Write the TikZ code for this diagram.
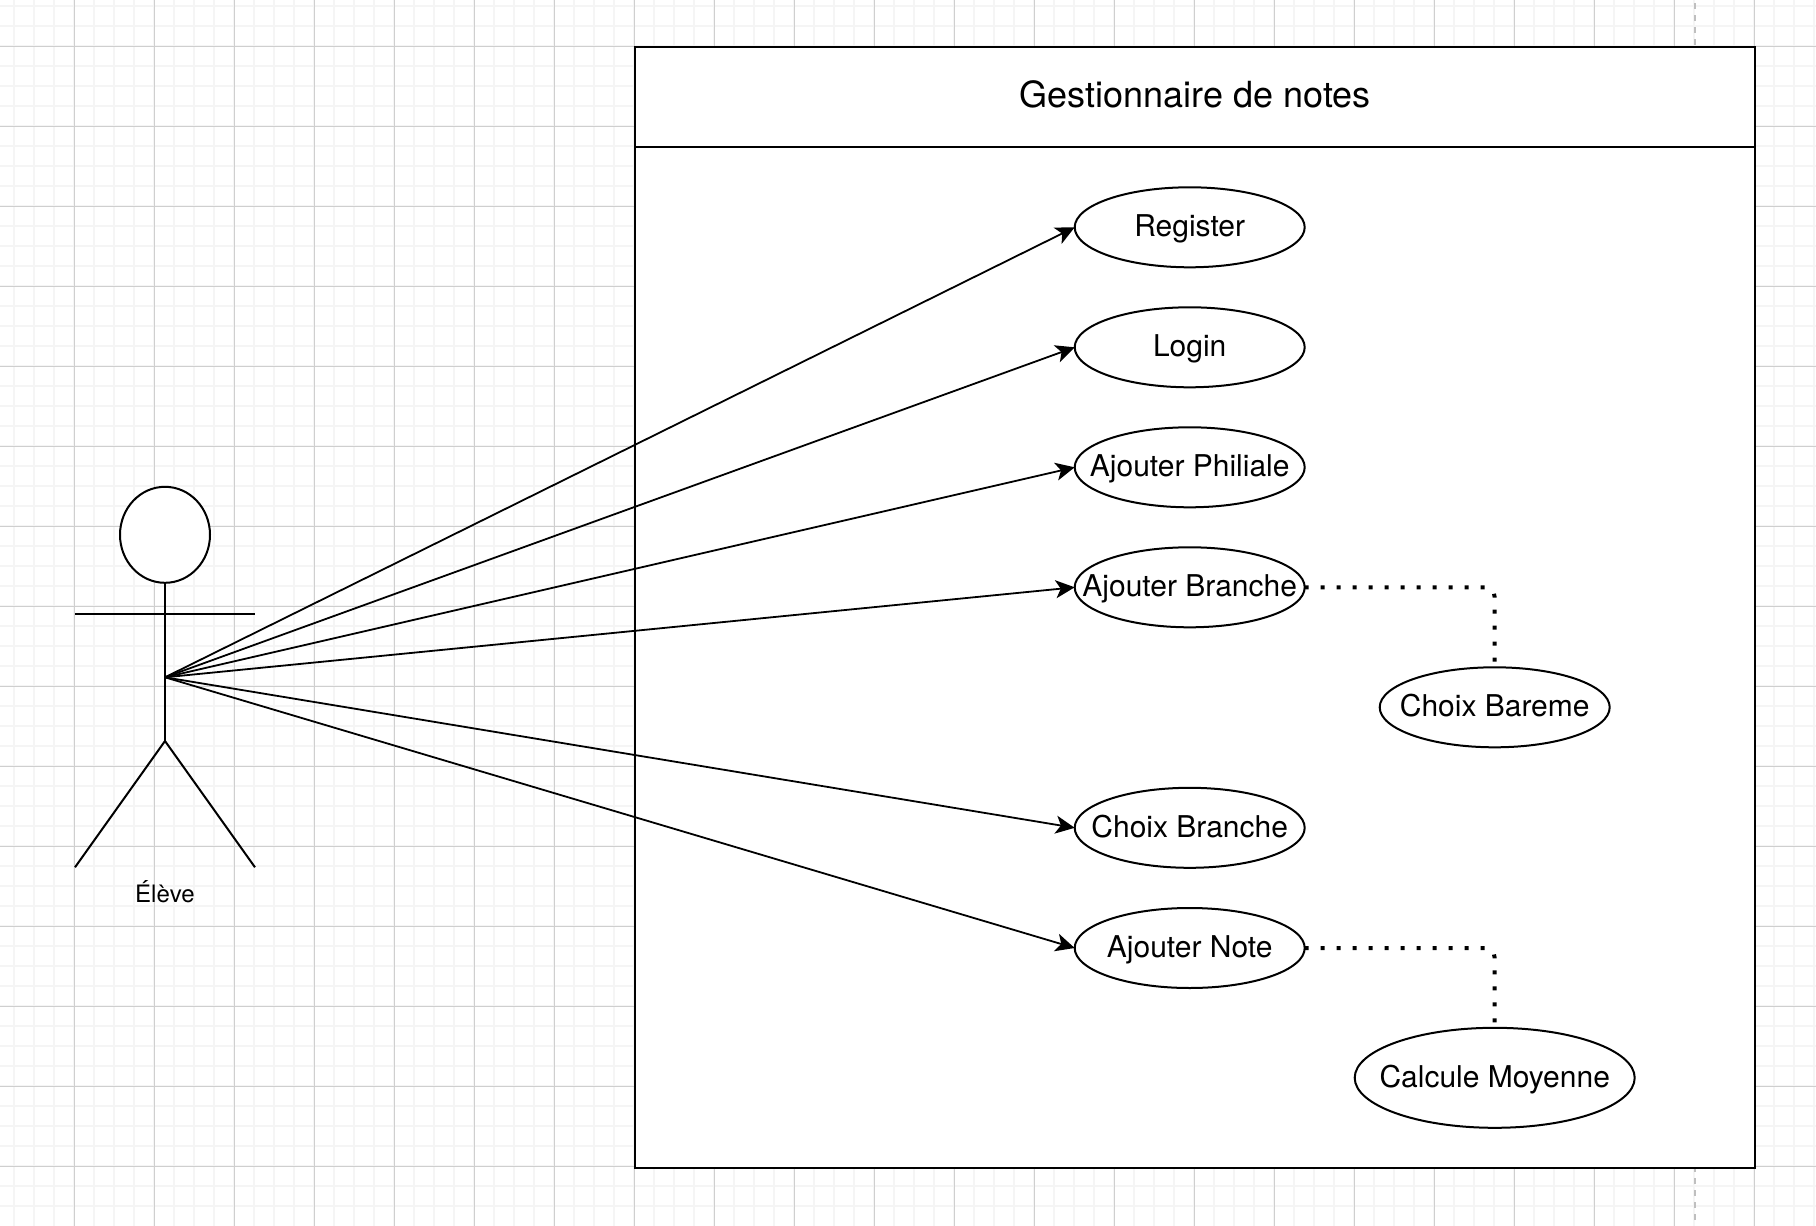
\documentclass[tikz,border=0pt]{standalone}
\usepackage{fontspec}
\setmainfont{TeX Gyre Heros}
\usetikzlibrary{arrows.meta,shapes.geometric}

\newcommand{\fixw}[1]{\makebox[0pt]{#1}}

\tikzset{
  minorgrid/.style={draw=black!4, line width=1pt},
  majorgrid/.style={draw=black!19, line width=0.5pt},
  pagebreak/.style={draw=black!25, line width=1pt, dash pattern=on 3pt off 3pt},
  sysbox/.style={rectangle, draw, fill=white, line width=1pt, inner sep=0pt, outer sep=0pt, minimum width=560pt},
  usecase/.style={ellipse, draw, fill=white, line width=1pt, inner sep=0pt, outer sep=0pt, minimum width=115pt, minimum height=40pt, text height=9.3pt, text depth=0pt, font=\fontsize{15}{18}\selectfont},
  actorline/.style={line width=1pt},
  assoc/.style={-{Stealth[length=9.5pt,width=9pt,inset=2.5pt]}, line width=0.9pt},
  linked/.style={line width=2pt, dash pattern=on 2pt off 6pt, rounded corners=5pt}
}

\begin{document}
\begin{tikzpicture}[x=0.5pt, y=-0.5pt]

  \useasboundingbox (0,0) rectangle (1816,1226);

  \foreach \x in {14.3,34.3,...,1815} \draw[minorgrid] (\x,0) -- (\x,1226);
  \foreach \y in {6.3,26.3,...,1225} \draw[minorgrid] (0,\y) -- (1816,\y);
  \foreach \x in {74.3,154.3,...,1815} \draw[majorgrid] (\x,0) -- (\x,1226);
  \foreach \y in {46.3,126.3,...,1225} \draw[majorgrid] (0,\y) -- (1816,\y);

  \draw[pagebreak] (1695,3) -- (1695,46);
  \draw[pagebreak] (1695,1166) -- (1695,1222);

  \node[sysbox, minimum height=560.5pt] (S) at (1195.3,607.8) {};
  \node[sysbox, minimum height=50pt, text height=10.5pt, text depth=0pt, font=\fontsize{18}{22}\selectfont] (T) at (1195.3,97.3) {Gestionnaire de notes};

  \node[usecase] (R) at (1189.7,227.3) {\fixw{Register}};
  \node[usecase] (L) at (1189.7,347.3) {\fixw{Login}};
  \node[usecase] (P) at (1189.7,467.3) {\fixw{Ajouter Philiale}};
  \node[usecase] (B) at (1189.7,587.3) {\fixw{Ajouter Branche}};
  \node[usecase] (M) at (1494.7,707.3) {\fixw{Choix Bareme}};
  \node[usecase] (C) at (1189.7,827.8) {\fixw{Choix Branche}};
  \node[usecase] (N) at (1189.7,948) {\fixw{Ajouter Note}};
  \node[usecase, minimum width=140pt, minimum height=50pt] (Y) at (1494.7,1077.8) {\fixw{Calcule Moyenne}};

  \node[ellipse, draw, fill=white, actorline, inner sep=0pt, outer sep=0pt, minimum width=45pt, minimum height=48pt] (H) at (165,534.8) {};
  \coordinate (Al) at (75,614);
  \coordinate (Ar) at (255,614);
  \coordinate (W) at (165,677.3);
  \coordinate (Hp) at (165,741);
  \coordinate (Fl) at (75,867.3);
  \coordinate (Fr) at (255,867.3);
  \node[font=\fontsize{12}{14}\selectfont] (E) at (165,891.5) {Élève};

  \draw[actorline] (H.south) -- (Hp);
  \draw[actorline] (Al) -- (Ar);
  \draw[actorline] (Fl) -- (Hp) -- (Fr);

  \foreach \t in {R,L,P,B,C,N} \draw[assoc] (W) -- (\t.west);

  \draw[linked] (B.east) -| (M.north);
  \draw[linked] (N.east) -| (Y.north);

\end{tikzpicture}
\end{document}
